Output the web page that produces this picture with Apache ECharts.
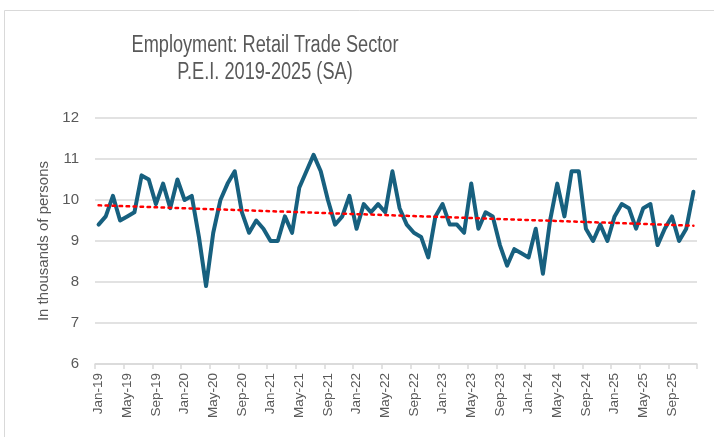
<!DOCTYPE html>
<html>
<head>
<meta charset="utf-8">
<script src="https://cdn.jsdelivr.net/npm/echarts@6/dist/echarts.min.js"></script>
<style>
  html, body { margin: 0; padding: 0; background: #fff; }
  #chart { width: 714px; height: 437px; }
</style>
</head>
<body>
<div id="chart"></div>
<script>
const years = ['19', '20', '21', '22', '23', '24', '25']
const monthNames = ['Jan', 'Feb', 'Mar', 'Apr', 'May', 'Jun', 'Jul', 'Aug', 'Sep', 'Oct', 'Nov', 'Dec']
const months = years.flatMap(y => monthNames.map(m => `${m}-${y}`))

// thousands of persons, Jan-19 .. Dec-25
const employment = [
  9.4, 9.6, 10.1, 9.5, 9.6, 9.7, 10.6, 10.5, 9.9, 10.4, 9.8, 10.5,
  10.0, 10.1, 9.1, 7.9, 9.2, 10.0, 10.4, 10.7, 9.7, 9.2, 9.5, 9.3,
  9.0, 9.0, 9.6, 9.2, 10.3, 10.7, 11.1, 10.7, 10.0, 9.4, 9.6, 10.1,
  9.3, 9.9, 9.7, 9.9, 9.7, 10.7, 9.8, 9.4, 9.2, 9.1, 8.6, 9.6,
  9.9, 9.4, 9.4, 9.2, 10.4, 9.3, 9.7, 9.6, 8.9, 8.4, 8.8, 8.7,
  8.6, 9.3, 8.2, 9.5, 10.4, 9.6, 10.7, 10.7, 9.3, 9.0, 9.4, 9.0,
  9.6, 9.9, 9.8, 9.3, 9.8, 9.9, 8.9, 9.3, 9.6, 9.0, 9.3, 10.2
]

const yTicks = [6, 7, 8, 9, 10, 11, 12]

const titleLines = ['Employment: Retail Trade Sector', 'P.E.I. 2019-2025 (SA)']

// linear trendline (least squares) like Excel's
const n = employment.length
const xMean = (n - 1) / 2
const yMean = employment.reduce((a, b) => a + b, 0) / n
let num = 0, den = 0
employment.forEach((v, i) => {
  num += (i - xMean) * (v - yMean)
  den += (i - xMean) * (i - xMean)
})
const slope = num / den
const trend = employment.map((v, i) => +(yMean + slope * (i - xMean)).toFixed(3))

const chart = echarts.init(document.getElementById('chart'))

// narrow title font is not installed, so squeeze a regular one
const titleText = (text, y) => ({
  type: 'text',
  x: 265,
  y: y,
  scaleX: 0.79,
  silent: true,
  style: {
    text: text,
    fill: '#595959',
    font: '23px "Liberation Sans", Arial, sans-serif',
    textAlign: 'center',
    textVerticalAlign: 'middle'
  }
})

const option = {
  backgroundColor: '#fff',
  animation: false,
  graphic: [
    {
      type: 'rect',
      shape: { x: 4.5, y: 10.5, width: 800, height: 600 },
      style: { fill: 'none', stroke: '#d9d9d9', lineWidth: 1 },
      silent: true
    },
    titleText(titleLines[0], 46),
    titleText(titleLines[1], 73)
  ],
  grid: {
    left: 95,
    right: 17,
    top: 118,
    bottom: 73
  },
  xAxis: {
    type: 'category',
    data: months,
    boundaryGap: true,
    axisLine: { lineStyle: { color: '#d9d9d9', width: 1.5 } },
    axisTick: {
      show: true,
      interval: 3,
      length: 5,
      lineStyle: { color: '#d9d9d9', width: 1.5 }
    },
    axisLabel: {
      interval: 3,
      rotate: 90,
      color: '#595959',
      fontSize: 13.5,
      fontFamily: 'Liberation Sans, Arial, sans-serif',
      margin: 9
    }
  },
  yAxis: {
    type: 'value',
    min: yTicks[0],
    max: yTicks[yTicks.length - 1],
    interval: 1,
    name: 'In thousands of persons',
    nameLocation: 'middle',
    nameGap: 40,
    nameRotate: 90,
    nameTextStyle: {
      color: '#595959',
      fontSize: 15,
      fontFamily: 'Liberation Sans, Arial, sans-serif'
    },
    axisLine: { show: false },
    axisTick: { show: false },
    axisLabel: {
      color: '#595959',
      fontSize: 15,
      fontFamily: 'Liberation Sans, Arial, sans-serif',
      margin: 16
    },
    splitLine: {
      lineStyle: { color: '#d9d9d9', width: 1.5 }
    }
  },
  series: [
    {
      name: 'Employment',
      type: 'line',
      data: employment,
      showSymbol: false,
      lineStyle: { color: '#17607f', width: 4, join: 'round', cap: 'round' },
      z: 3
    },
    {
      name: 'Trend',
      type: 'line',
      data: trend,
      showSymbol: false,
      lineStyle: { color: '#ff0000', width: 2.5, type: [2.5, 4.5], cap: 'round' },
      z: 4
    }
  ]
}

chart.setOption(option)
window.addEventListener('resize', () => chart.resize())
</script>
</body>
</html>
